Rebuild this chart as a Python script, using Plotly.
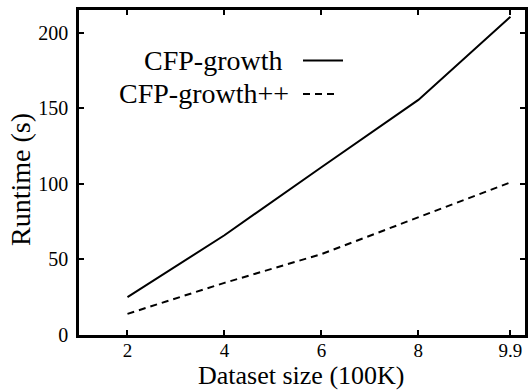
import plotly.graph_objects as go

dataset_size = [2, 4, 6, 8, 9.9]
cfp_growth = [25, 66, 111, 155.5, 210.5]
cfp_growth_pp = [14, 34.5, 53.5, 78, 101]
x_ticks = [2, 4, 6, 8, 9.9]
x_tick_labels = ["2", "4", "6", "8", "9.9"]
y_ticks = [0, 50, 100, 150, 200]
legend_names = ["CFP-growth", "CFP-growth++"]
x_title = "Dataset size (100K)"
y_title = "Runtime (s)"

FONT = "Liberation Serif"

fig = go.Figure()
fig.add_trace(go.Scatter(x=dataset_size, y=cfp_growth, mode="lines",
                         name=legend_names[0],
                         line=dict(color="black", width=2, dash="solid")))
fig.add_trace(go.Scatter(x=dataset_size, y=cfp_growth_pp, mode="lines",
                         name=legend_names[1],
                         line=dict(color="black", width=2, dash="7px,5px")))

L, R, T, B = 79, 525, 10, 335
W, H = 528, 390
def px(x):
    return (x - L) / (R - L)
def py(y):
    return (B - y) / (B - T)

# legend emulation: right-aligned text with line sample to the right
rows = [(legend_names[0], 284, 60.5), (legend_names[1], 291, 94)]
for name, xr, yc in rows:
    fig.add_annotation(x=px(xr), y=py(yc), xref="paper", yref="paper",
                       text=name, showarrow=False, xanchor="right", yanchor="middle",
                       font=dict(family=FONT, size=28, color="black"))
fig.add_shape(type="line", xref="paper", yref="paper", x0=px(303), x1=px(343),
              y0=py(60.5), y1=py(60.5), line=dict(color="black", width=2))
fig.add_shape(type="line", xref="paper", yref="paper", x0=px(303), x1=px(338),
              y0=py(94), y1=py(94), line=dict(color="black", width=2, dash="7px,5px"))

# axis titles
fig.add_annotation(x=px(301), y=py(376), xref="paper", yref="paper",
                   text=x_title, showarrow=False, xanchor="center", yanchor="middle",
                   font=dict(family=FONT, size=26, color="black"))
fig.add_annotation(x=px(21), y=py(180), xref="paper", yref="paper",
                   text=y_title, showarrow=False, xanchor="center", yanchor="middle",
                   textangle=-90, font=dict(family=FONT, size=28, color="black"))

fig.update_layout(
    width=W, height=H,
    margin=dict(l=L, r=W - R, t=T, b=H - B, autoexpand=False),
    paper_bgcolor="white", plot_bgcolor="white",
    showlegend=False,
    font=dict(family=FONT, color="black", size=20),
)
fig.update_xaxes(range=[1, 10.2], tickvals=x_ticks, ticktext=x_tick_labels,
                 ticks="inside", ticklen=5, tickwidth=1.5, tickcolor="black",
                 showline=True, linecolor="black", linewidth=2.5, mirror="ticks",
                 showgrid=False, zeroline=False, automargin=False,
                 tickfont=dict(size=19), ticklabelstandoff=-4)
fig.update_yaxes(range=[0, 215], tickvals=y_ticks,
                 ticks="inside", ticklen=5, tickwidth=1.5, tickcolor="black",
                 showline=True, linecolor="black", linewidth=2.5, mirror="ticks",
                 showgrid=False, zeroline=False, automargin=False,
                 tickfont=dict(size=20), ticklabelstandoff=4)

fig.write_html("out.html", config={"displayModeBar": False},
               post_script="document.body.style.margin='0';document.body.style.overflow='hidden';")
